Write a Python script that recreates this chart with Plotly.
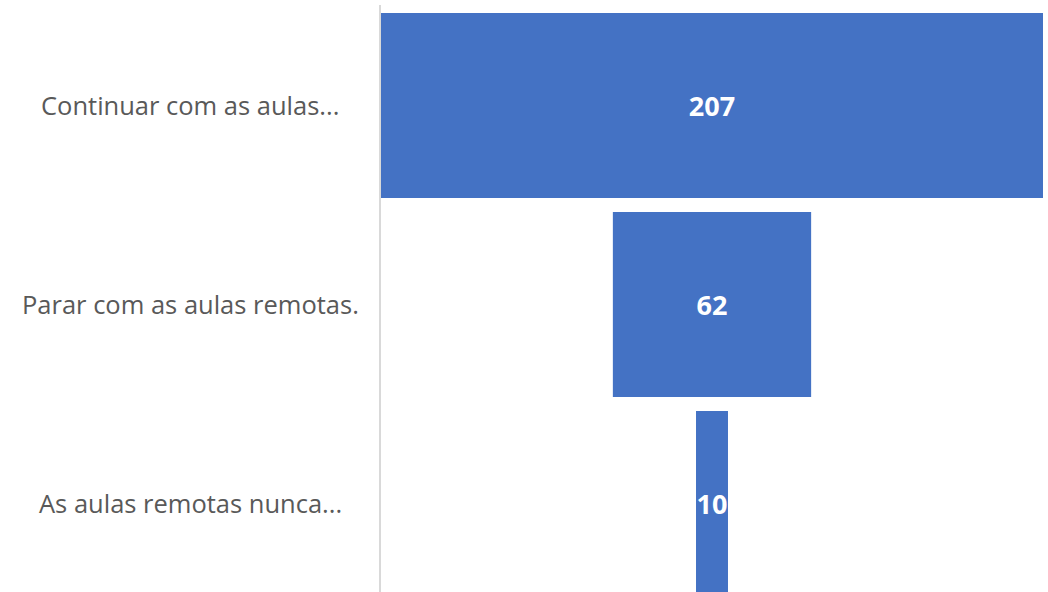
import plotly.graph_objects as go

categories = ["Continuar com as aulas...", "Parar com as aulas remotas.", "As aulas remotas nunca..."]
values = [207, 62, 10]

fig = go.Figure(go.Funnel(
    y=categories,
    x=values,
    textinfo="value",
    textposition="inside",
    textfont=dict(color="white", size=27, family="Open Sans", weight="bold"),
    marker=dict(color="#4472C4", line=dict(width=0)),
    connector=dict(visible=False),
))

W, H = 1048, 592
ml, mr, mt, mb = 381, 5, 5, 0
pw = W - ml - mr

for c in categories:
    fig.add_annotation(
        x=(190 - ml) / pw, xref="paper", y=c, yref="y",
        text=c, showarrow=False, xanchor="center",
        font=dict(family="Open Sans", size=25.5, color="#595959"),
    )

fig.update_layout(
    width=W, height=H,
    margin=dict(l=ml, r=mr, t=mt, b=mb),
    paper_bgcolor="white", plot_bgcolor="white",
    funnelgap=0.07,
    uniformtext=dict(minsize=27, mode="show"),
    showlegend=False,
    xaxis=dict(visible=False, range=[-103.5, 103.5]),
    yaxis=dict(showticklabels=False, showline=True, linecolor="#d9d9d9", linewidth=2,
               showgrid=False, ticks="", range=[2.445, -0.505]),
)

fig.write_html("out.html", config={"displayModeBar": False},
               post_script="document.body.style.margin='0';document.body.style.overflow='hidden';")
